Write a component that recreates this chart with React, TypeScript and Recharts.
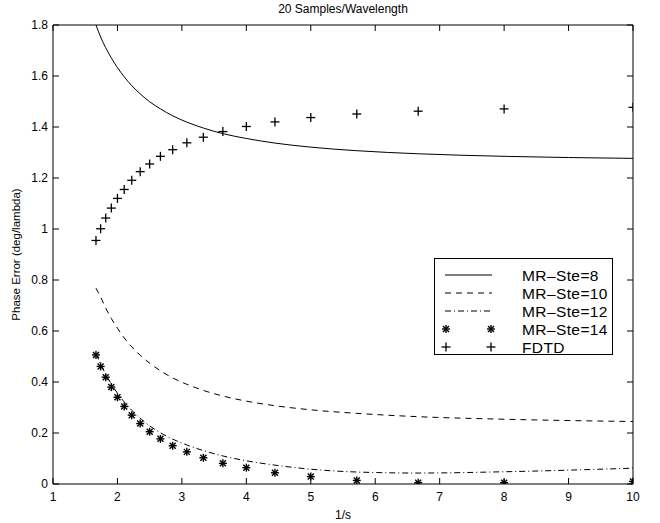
import { ComposedChart, Line, XAxis, YAxis, ReferenceLine } from "recharts";

// 1/s sample points (20 / n for n = 12 ... 2)
const invS = [1.667, 1.739, 1.818, 1.905, 2, 2.105, 2.222, 2.353, 2.5, 2.667, 2.857, 3.077, 3.333, 3.636, 4, 4.444, 5, 5.714, 6.667, 8, 10];

const mrSte8 = [1.8, 1.753, 1.711, 1.671, 1.633, 1.597, 1.562, 1.53, 1.499, 1.471, 1.444, 1.419, 1.396, 1.374, 1.355, 1.337, 1.321, 1.307, 1.295, 1.285, 1.277];
const mrSte10 = [0.768, 0.733, 0.69, 0.649, 0.611, 0.573, 0.538, 0.505, 0.474, 0.444, 0.416, 0.391, 0.367, 0.345, 0.325, 0.307, 0.291, 0.277, 0.264, 0.254, 0.245];
const mrSte12 = [0.51, 0.47, 0.43, 0.393, 0.356, 0.322, 0.289, 0.258, 0.228, 0.201, 0.176, 0.153, 0.131, 0.11, 0.091, 0.074, 0.058, 0.047, 0.043, 0.048, 0.062];
const mrSte14 = [0.506, 0.461, 0.419, 0.38, 0.34, 0.304, 0.27, 0.237, 0.205, 0.177, 0.15, 0.126, 0.103, 0.081, 0.064, 0.044, 0.029, 0.014, 0.005, 0.005, 0.01];
const fdtd = [0.955, 1.001, 1.043, 1.082, 1.12, 1.155, 1.191, 1.225, 1.255, 1.285, 1.311, 1.338, 1.36, 1.382, 1.402, 1.42, 1.437, 1.451, 1.462, 1.471, 1.477];

const xTicks = [1, 2, 3, 4, 5, 6, 7, 8, 9, 10];
const yTicks = [0, 0.2, 0.4, 0.6, 0.8, 1, 1.2, 1.4, 1.6, 1.8];

const legendLabels = ["MR–Ste=8", "MR–Ste=10", "MR–Ste=12", "MR–Ste=14", "FDTD"];

const rows = invS.map((x, i) => ({
  x,
  mr8: mrSte8[i],
  mr10: mrSte10[i],
  mr12: mrSte12[i],
  mr14: mrSte14[i],
  fdtd: fdtd[i],
}));

const FONT = '"Liberation Sans", Arial, Helvetica, sans-serif';

// plot box edges (from the chart margins below)
const LEFT = 53;
const RIGHT = 633;
const TOP = 25;
const BOTTOM = 484;
const TICK = 6;

const Plus = ({ cx, cy }: { cx: number; cy: number }) => (
  <g stroke="#000" strokeWidth={1.3}>
    <line x1={cx - 4.5} y1={cy} x2={cx + 4.5} y2={cy} />
    <line x1={cx} y1={cy - 4.5} x2={cx} y2={cy + 4.5} />
  </g>
);

const Star = ({ cx, cy }: { cx: number; cy: number }) => (
  <g stroke="#000" strokeWidth={1.4}>
    <line x1={cx - 4} y1={cy} x2={cx + 4} y2={cy} />
    <line x1={cx} y1={cy - 4} x2={cx} y2={cy + 4} />
    <line x1={cx - 3} y1={cy - 3} x2={cx + 3} y2={cy + 3} />
    <line x1={cx - 3} y1={cy + 3} x2={cx + 3} y2={cy - 3} />
  </g>
);

const fmtY = (v: number) => (v === 0 ? "0" : v === 1 ? "1" : v.toFixed(1));

const XTick = ({ x, y, payload }: any) => (
  <g>
    <line x1={x} x2={x} y1={BOTTOM} y2={BOTTOM - TICK} stroke="#000" />
    <line x1={x} x2={x} y1={TOP} y2={TOP + TICK} stroke="#000" />
    <text x={x} y={y} dy="0.71em" textAnchor="middle" fontSize={12} fontFamily={FONT} fill="#000">
      {payload.value}
    </text>
  </g>
);

const YTick = ({ x, y, payload }: any) => (
  <g>
    <line x1={LEFT} x2={LEFT + TICK} y1={y} y2={y} stroke="#000" />
    <line x1={RIGHT} x2={RIGHT - TICK} y1={y} y2={y} stroke="#000" />
    <text x={x} y={y} dy="0.36em" textAnchor="end" fontSize={12} fontFamily={FONT} fill="#000">
      {fmtY(payload.value)}
    </text>
  </g>
);

const LegendBox = () => {
  const rowY = [17, 35, 53, 71, 89];
  return (
    <svg width={180} height={98} style={{ position: "absolute", left: 434, top: 258 }}>
      <rect x={0.5} y={0.5} width={178} height={96} fill="#fff" stroke="#000" strokeWidth={1} />
      {legendLabels.map((label, i) => {
        const y = rowY[i];
        return (
          <g key={label}>
            {i === 0 && <line x1={11} y1={y} x2={58} y2={y} stroke="#000" strokeWidth={1} />}
            {i === 1 && <line x1={11} y1={y} x2={58} y2={y} stroke="#000" strokeWidth={1} strokeDasharray="6 5" />}
            {i === 2 && <line x1={11} y1={y} x2={58} y2={y} stroke="#000" strokeWidth={1} strokeDasharray="6 3 1 3" />}
            {i === 3 && (
              <>
                <Star cx={12} cy={y} />
                <Star cx={57} cy={y} />
              </>
            )}
            {i === 4 && (
              <>
                <Plus cx={12} cy={y} />
                <Plus cx={57} cy={y} />
              </>
            )}
            <text x={88} y={y} dy="0.36em" fontSize={15.5} fontFamily={FONT} fill="#000" letterSpacing={0.4}>
              {label}
            </text>
          </g>
        );
      })}
    </svg>
  );
};

export default function App() {
  return (
    <div style={{ position: "relative", width: 660, height: 523, background: "#fff" }}>
      <style>{`body{margin:0}`}</style>
      <div
        style={{
          position: "absolute",
          left: LEFT,
          width: RIGHT - LEFT,
          top: 2,
          textAlign: "center",
          fontFamily: FONT,
          fontSize: 12,
          color: "#000",
        }}
      >
        20 Samples/Wavelength
      </div>
      <ComposedChart
        width={660}
        height={523}
        data={rows}
        margin={{ top: TOP, right: 660 - RIGHT, bottom: 0, left: 0 }}
      >
        <XAxis
          dataKey="x"
          type="number"
          domain={[1, 10]}
          ticks={xTicks}
          allowDataOverflow
          height={523 - BOTTOM}
          axisLine={false}
          tickLine={false}
          tickSize={0}
          tickMargin={8}
          tick={<XTick />}
          label={{ value: "1/s", position: "insideBottom", offset: 4, fontSize: 12, fill: "#000", fontFamily: FONT }}
        />
        <YAxis
          type="number"
          domain={[0, 1.8]}
          ticks={yTicks}
          allowDataOverflow
          width={LEFT}
          axisLine={false}
          tickLine={false}
          tickSize={0}
          tickMargin={5}
          tick={<YTick />}
          label={{
            value: "Phase Error (deg/lambda)",
            angle: -90,
            position: "insideLeft",
            offset: 16,
            fontSize: 11.5,
            fill: "#000",
            fontFamily: FONT,
            style: { textAnchor: "middle" },
          }}
        />
        <ReferenceLine x={1} stroke="#000" strokeWidth={1} />
        <ReferenceLine x={10} stroke="#000" strokeWidth={1} />
        <ReferenceLine y={0} stroke="#000" strokeWidth={1} />
        <ReferenceLine y={1.8} stroke="#000" strokeWidth={1} />
        <Line dataKey="mr8" type="monotone" stroke="#000" strokeWidth={1} dot={false} activeDot={false} isAnimationActive={false} />
        <Line dataKey="mr10" type="monotone" stroke="#000" strokeWidth={1} strokeDasharray="6 5" dot={false} activeDot={false} isAnimationActive={false} />
        <Line dataKey="mr12" type="monotone" stroke="#000" strokeWidth={1} strokeDasharray="6 3 1 3" dot={false} activeDot={false} isAnimationActive={false} />
        <Line
          dataKey="mr14"
          stroke="none"
          activeDot={false}
          isAnimationActive={false}
          dot={(p: any) => <Star key={`s-${p.index}`} cx={p.cx} cy={p.cy} />}
        />
        <Line
          dataKey="fdtd"
          stroke="none"
          activeDot={false}
          isAnimationActive={false}
          dot={(p: any) => <Plus key={`p-${p.index}`} cx={p.cx} cy={p.cy} />}
        />
      </ComposedChart>
      <LegendBox />
    </div>
  );
}
